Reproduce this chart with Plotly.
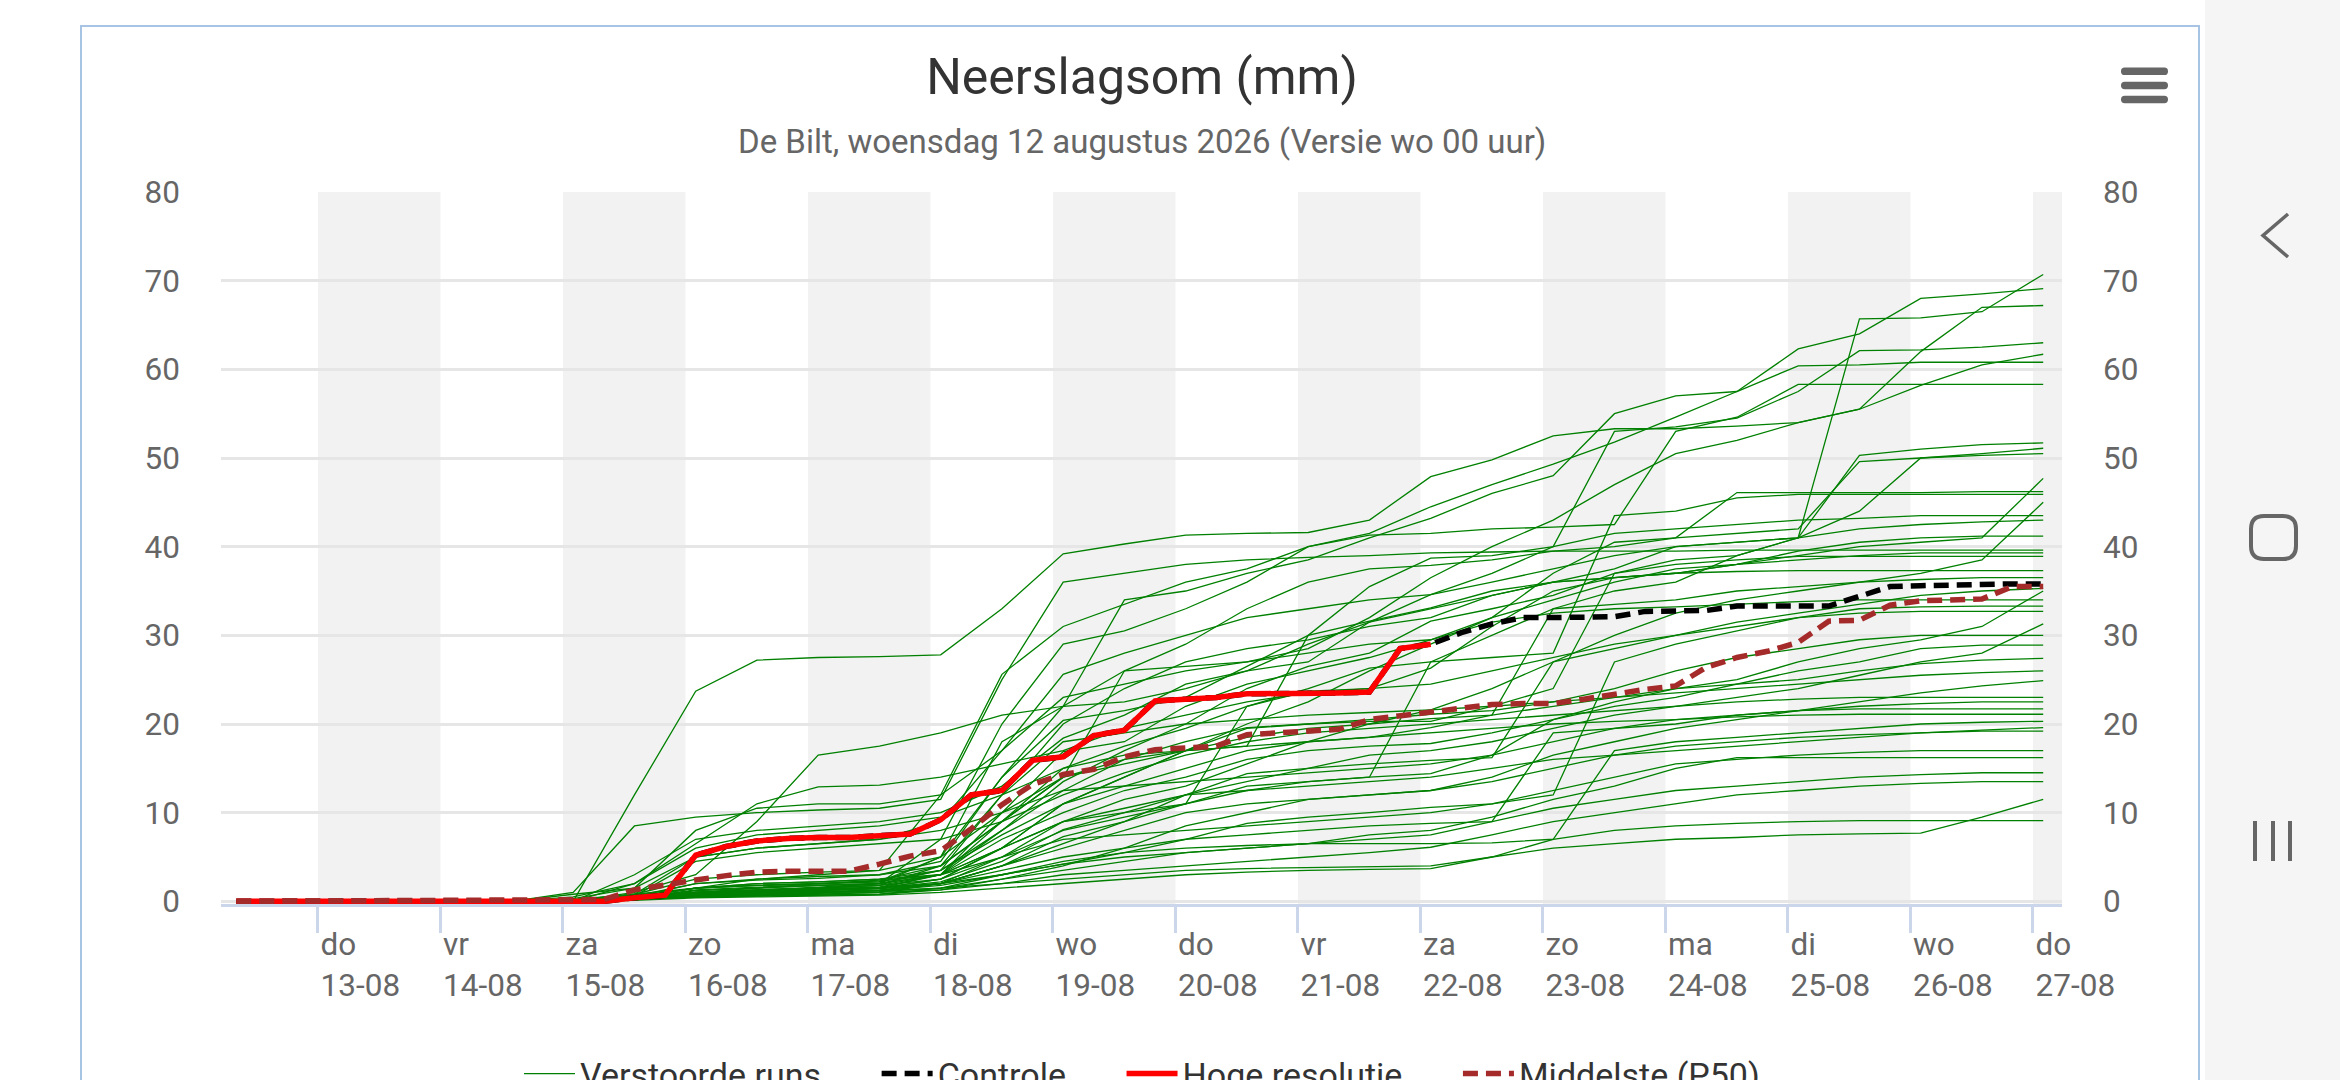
import pandas as pd
import plotly.graph_objects as go

# plot area in page pixels (2340 x 1080 page)
PLOT_L, PLOT_R, PLOT_T, PLOT_B = 221, 2062, 192, 904
W, H = 2340, 1080


def px(x):
    return (x - PLOT_L) / (PLOT_R - PLOT_L)


def py(y):
    return (PLOT_B - y) / (PLOT_B - PLOT_T)


# ---- data ----
tick_dates = pd.date_range("2026-08-13", "2026-08-27", freq="D")
day_names = ["do", "vr", "za", "zo", "ma", "di", "wo", "do", "vr", "za", "zo", "ma", "di", "wo", "do"]
day_labels = ["13-08", "14-08", "15-08", "16-08", "17-08", "18-08", "19-08", "20-08",
              "21-08", "22-08", "23-08", "24-08", "25-08", "26-08", "27-08"]

start_time = pd.Timestamp("2026-08-12 08:00")

# control / high-res / median on a 6-hourly grid from 15-08 08:00
grid_6h = pd.date_range("2026-08-15 08:00", "2026-08-27 02:00", freq="6h")
controle = [0.0, 0.4, 0.7, 5.2, 6.2, 6.8, 7.1, 7.2, 7.2, 7.4, 7.6, 9.2, 12.0, 12.5, 15.9, 16.3,
            18.7, 19.3, 22.6, 22.8, 23.0, 23.4, 23.4, 23.5, 23.5, 23.6, 28.5, 29.0, 30.3, 31.3,
            32.0, 32.0, 32.0, 32.1, 32.7, 32.8, 32.8, 33.3, 33.3, 33.3, 33.3, 34.4, 35.5, 35.6,
            35.7, 35.7, 35.8, 35.8]
hoge_resolutie = [0.0, 0.4, 0.7, 5.2, 6.2, 6.8, 7.1, 7.2, 7.2, 7.4, 7.6, 9.2, 12.0, 12.5, 15.9,
                  16.3, 18.7, 19.3, 22.6, 22.8, 23.0, 23.4, 23.4, 23.5, 23.5, 23.6, 28.5, 29.0]
middelste = [0.2, 1.3, 1.9, 2.4, 2.9, 3.3, 3.4, 3.4, 3.4, 4.2, 5.1, 5.7, 8.2, 10.9, 13.2, 14.3,
             14.9, 16.3, 17.1, 17.3, 17.5, 18.8, 19.0, 19.1, 19.4, 20.5, 20.9, 21.3, 21.7, 22.2,
             22.3, 22.3, 22.8, 23.4, 23.9, 24.3, 26.4, 27.5, 28.2, 29.2, 31.6, 31.7, 33.4, 33.9,
             34.0, 34.1, 35.5, 35.5]

# perturbed members: 0 until 14-08 14:00, then 12-hourly from 15-08 02:00
member_lead = [pd.Timestamp("2026-08-12 08:00"), pd.Timestamp("2026-08-14 14:00")]
grid_12h = pd.date_range("2026-08-15 02:00", "2026-08-27 02:00", freq="12h")

run_01 = [0.0, 12.0, 23.7, 27.2, 27.5, 27.6, 27.8, 33.0, 39.2, 40.3, 41.3, 41.5, 41.6, 43.0, 47.9, 49.8, 52.5, 53.3, 53.3, 53.6, 54.0, 55.5, 58.2, 60.5, 61.7]
run_02 = [0.2, 0.8, 1.5, 2.5, 3.0, 3.5, 12.0, 25.6, 31.0, 33.5, 36.0, 37.5, 40.0, 41.5, 44.5, 47.0, 49.3, 51.8, 54.6, 57.5, 62.3, 64.0, 68.0, 68.5, 69.1]
run_03 = [0.0, 0.5, 1.0, 1.5, 2.0, 2.2, 5.0, 18.0, 22.0, 22.5, 24.0, 26.0, 29.0, 31.5, 33.0, 34.5, 36.0, 37.5, 40.0, 40.5, 41.0, 65.7, 65.8, 66.5, 70.7]
run_04 = [0.0, 0.3, 0.8, 1.2, 1.5, 1.8, 4.0, 9.0, 14.0, 26.0, 26.5, 27.0, 28.5, 32.0, 36.5, 40.0, 43.0, 47.0, 50.5, 52.0, 54.0, 55.5, 62.0, 67.0, 67.2]
run_05 = [0.0, 0.5, 2.0, 2.5, 2.8, 3.0, 4.5, 14.0, 20.4, 21.5, 23.0, 26.5, 30.0, 35.5, 38.7, 39.0, 40.0, 53.0, 53.5, 54.5, 57.5, 62.1, 62.2, 62.5, 63.0]
run_06 = [0.0, 1.0, 3.0, 9.0, 16.5, 17.5, 19.0, 21.0, 22.0, 34.0, 35.0, 37.0, 38.5, 41.0, 43.2, 46.0, 48.0, 55.0, 57.0, 57.5, 60.4, 60.5, 60.8, 60.8, 60.8]
run_07 = [0.0, 0.3, 1.0, 1.3, 1.5, 2.0, 7.0, 20.0, 29.0, 30.5, 33.0, 36.0, 40.0, 41.3, 41.5, 42.0, 42.2, 42.5, 53.0, 54.6, 58.3, 58.3, 58.3, 58.3, 58.3]
run_08 = [0.0, 0.5, 1.5, 2.0, 2.2, 2.5, 3.5, 8.0, 13.5, 17.0, 20.0, 24.0, 26.5, 28.0, 31.6, 33.0, 34.5, 37.0, 38.5, 39.0, 41.0, 50.3, 51.0, 51.5, 51.7]
run_09 = [0.0, 3.0, 7.0, 8.0, 8.5, 9.0, 10.0, 13.0, 18.4, 21.0, 24.5, 26.0, 27.0, 31.5, 34.6, 36.0, 37.5, 39.0, 40.0, 40.5, 41.0, 44.0, 50.0, 50.5, 51.1]
run_10 = [0.0, 0.2, 0.8, 1.0, 1.2, 1.5, 3.0, 10.0, 16.9, 18.0, 22.0, 24.5, 26.0, 27.5, 29.5, 32.0, 37.0, 40.5, 41.0, 41.5, 42.0, 49.6, 50.0, 50.3, 50.5]
run_11 = [0.0, 0.4, 1.2, 1.5, 1.8, 2.0, 3.0, 6.0, 11.0, 14.0, 17.0, 20.0, 22.5, 26.0, 29.0, 32.0, 34.0, 36.0, 37.5, 38.0, 39.0, 40.0, 40.5, 41.0, 47.7]
run_12 = [0.0, 0.3, 1.0, 1.3, 1.6, 2.0, 5.0, 14.0, 22.0, 26.0, 29.0, 33.0, 36.0, 37.5, 37.9, 38.5, 39.5, 40.0, 41.0, 46.1, 46.1, 46.1, 46.1, 46.2, 46.2]
run_13 = [0.0, 0.6, 2.0, 2.4, 2.6, 3.0, 4.0, 9.0, 15.0, 17.5, 19.5, 22.0, 24.0, 26.3, 27.0, 27.5, 28.0, 43.5, 44.0, 45.5, 45.9, 45.9, 45.9, 45.9, 45.9]
run_14 = [0.0, 0.2, 0.5, 0.7, 0.8, 1.0, 2.0, 5.0, 9.0, 11.5, 13.0, 15.5, 18.0, 20.0, 21.6, 24.0, 27.0, 30.0, 32.5, 34.0, 35.0, 36.0, 37.0, 38.5, 45.0]
run_15 = [0.8, 1.5, 5.0, 6.0, 6.5, 7.0, 9.0, 17.0, 25.6, 28.0, 30.0, 32.0, 33.0, 34.0, 34.6, 37.0, 40.0, 41.5, 42.0, 42.5, 43.0, 43.2, 43.5, 43.5, 43.5]
run_16 = [0.0, 0.2, 0.6, 0.8, 1.0, 1.2, 2.0, 4.0, 7.3, 9.0, 11.0, 13.0, 13.5, 14.0, 27.0, 30.0, 33.0, 35.0, 36.0, 39.0, 41.0, 42.0, 42.5, 42.8, 43.0]
run_17 = [0.0, 0.5, 1.5, 2.0, 2.2, 2.5, 3.0, 8.0, 12.5, 16.0, 17.0, 17.5, 30.0, 31.6, 33.1, 35.0, 36.0, 36.5, 37.0, 38.0, 39.5, 40.5, 41.0, 41.2, 41.2]
run_18 = [1.0, 8.5, 9.5, 10.0, 10.3, 10.5, 11.5, 25.0, 36.0, 37.0, 38.0, 38.5, 38.8, 39.0, 39.3, 39.4, 39.5, 39.5, 39.5, 39.6, 39.6, 39.6, 39.6, 39.6, 39.6]
run_19 = [0.0, 0.3, 0.8, 1.0, 1.3, 1.5, 2.5, 6.0, 9.0, 10.0, 11.0, 22.0, 23.7, 24.0, 26.3, 31.0, 35.0, 36.5, 37.0, 38.0, 38.5, 39.0, 39.3, 39.3, 39.3]
run_20 = [0.0, 0.8, 2.5, 3.0, 3.3, 3.5, 5.0, 10.0, 14.0, 15.5, 17.0, 19.5, 20.0, 20.3, 20.3, 22.0, 24.0, 37.0, 38.0, 38.5, 38.9, 38.9, 38.9, 38.9, 38.9]
run_21 = [0.0, 0.4, 1.2, 1.5, 1.8, 2.0, 3.5, 12.0, 20.0, 24.0, 27.0, 28.5, 29.5, 31.0, 32.0, 34.5, 36.0, 36.5, 37.0, 37.2, 37.3, 37.3, 37.3, 37.3, 37.3]
run_22 = [0.0, 0.2, 0.7, 0.9, 1.1, 1.3, 2.0, 4.0, 6.5, 9.0, 12.0, 14.4, 15.0, 15.5, 15.9, 16.2, 27.0, 28.5, 30.0, 31.5, 32.5, 33.5, 34.5, 35.0, 35.3]
run_23 = [0.0, 0.5, 1.0, 1.2, 1.4, 1.6, 3.0, 7.0, 10.0, 12.5, 14.0, 16.0, 17.0, 17.5, 17.8, 19.0, 20.5, 22.5, 24.0, 25.0, 27.0, 28.5, 29.5, 31.0, 35.0]
run_24 = [0.3, 1.5, 8.0, 10.5, 11.0, 11.0, 12.0, 17.0, 23.0, 24.5, 26.0, 27.0, 28.0, 29.0, 29.5, 31.5, 32.5, 33.0, 33.2, 33.5, 33.8, 34.0, 34.0, 34.0, 34.0]
run_25 = [0.0, 0.2, 0.5, 0.6, 0.7, 0.8, 1.5, 3.0, 4.2, 5.5, 7.0, 8.8, 9.5, 10.0, 10.6, 11.0, 12.0, 27.0, 29.0, 30.5, 32.0, 33.0, 33.2, 33.3, 33.3]
run_26 = [0.5, 2.0, 6.5, 11.0, 12.9, 13.1, 14.0, 15.5, 17.0, 19.5, 21.0, 22.5, 23.5, 24.0, 24.5, 26.0, 27.5, 29.0, 30.0, 31.0, 32.0, 32.5, 32.7, 32.7, 32.7]
run_27 = [0.0, 0.3, 0.9, 1.1, 1.3, 1.5, 2.2, 4.5, 8.1, 10.0, 12.0, 13.5, 15.0, 16.5, 17.0, 18.0, 19.5, 21.0, 22.0, 23.0, 24.0, 25.5, 27.0, 28.0, 31.3]
run_28 = [0.0, 0.4, 1.0, 1.2, 1.5, 1.8, 3.0, 9.0, 14.0, 16.0, 18.0, 19.6, 20.0, 20.5, 21.1, 21.5, 22.5, 24.0, 26.0, 27.5, 28.5, 29.5, 30.0, 30.0, 30.0]
run_29 = [0.0, 0.3, 0.8, 1.0, 1.2, 1.5, 2.5, 5.0, 8.0, 9.5, 11.0, 12.5, 13.5, 14.0, 14.4, 16.5, 20.5, 22.0, 23.0, 24.5, 26.0, 27.0, 28.5, 28.9, 28.9]
run_30 = [0.0, 0.5, 1.5, 1.8, 2.0, 2.2, 3.5, 7.5, 11.0, 13.0, 15.0, 17.0, 18.0, 18.5, 19.6, 21.0, 22.0, 23.0, 24.0, 24.5, 25.0, 26.0, 26.8, 27.2, 27.4]
run_31 = [0.0, 0.2, 0.5, 0.6, 0.7, 0.8, 1.3, 2.5, 4.0, 6.0, 8.5, 10.0, 11.5, 12.0, 12.5, 14.0, 16.5, 18.0, 19.5, 20.5, 21.5, 22.5, 23.5, 24.3, 24.9]
run_32 = [0.0, 0.6, 4.5, 5.5, 6.0, 6.5, 7.0, 9.0, 12.0, 14.5, 16.5, 18.0, 19.0, 19.5, 20.0, 20.5, 21.0, 21.5, 22.0, 22.5, 22.8, 23.0, 23.0, 23.0, 23.0]
run_33 = [0.0, 0.3, 0.9, 1.1, 1.3, 1.5, 2.0, 3.5, 5.0, 6.0, 7.0, 7.5, 8.0, 8.5, 8.8, 9.0, 19.0, 19.5, 20.0, 21.0, 21.5, 21.7, 21.7, 21.7, 21.7]
run_34 = [0.0, 2.0, 6.0, 7.5, 8.0, 8.5, 9.5, 12.0, 15.0, 16.5, 17.0, 17.5, 18.0, 18.5, 19.0, 19.5, 20.0, 20.3, 20.5, 20.8, 21.0, 21.1, 21.1, 21.1, 21.1]
run_35 = [0.0, 0.2, 0.6, 0.8, 1.0, 1.2, 1.8, 3.0, 4.5, 5.5, 6.0, 6.3, 6.5, 6.5, 6.5, 6.6, 7.0, 17.0, 18.0, 18.5, 19.0, 19.5, 20.0, 20.2, 20.3]
run_36 = [0.0, 0.4, 1.3, 1.6, 1.8, 2.0, 3.0, 6.0, 9.0, 10.5, 12.0, 12.5, 13.0, 13.5, 14.0, 15.0, 16.0, 16.5, 17.0, 17.5, 18.0, 18.5, 19.0, 19.3, 19.6]
run_37 = [0.0, 0.3, 0.8, 1.0, 1.2, 1.4, 2.0, 4.0, 6.0, 8.0, 10.0, 11.0, 11.5, 12.0, 12.5, 13.5, 15.0, 16.5, 17.5, 18.0, 18.5, 18.8, 19.0, 19.2, 19.2]
run_38 = [0.0, 0.5, 1.5, 1.8, 2.0, 2.3, 3.0, 5.0, 7.0, 7.5, 8.0, 8.5, 9.0, 9.5, 10.0, 11.0, 12.5, 14.0, 15.5, 16.0, 16.5, 16.8, 17.0, 17.0, 17.0]
run_39 = [0.0, 0.2, 0.6, 0.8, 1.0, 1.2, 1.5, 2.5, 3.5, 4.5, 5.5, 6.0, 6.5, 7.5, 8.0, 9.5, 11.5, 13.0, 15.0, 16.2, 16.2, 16.2, 16.2, 16.2, 16.2]
run_40 = [0.0, 0.3, 1.0, 1.2, 1.4, 1.6, 2.0, 3.0, 4.2, 5.0, 5.5, 6.0, 6.5, 7.0, 7.5, 9.0, 10.5, 11.5, 12.5, 13.0, 13.5, 14.0, 14.3, 14.5, 14.5]
run_41 = [0.0, 0.2, 0.5, 0.7, 0.9, 1.0, 1.3, 2.0, 3.0, 3.5, 4.0, 4.5, 5.0, 5.5, 6.1, 7.5, 9.0, 10.0, 11.0, 12.0, 12.5, 13.0, 13.3, 13.5, 13.5]
run_42 = [0.0, 0.2, 0.6, 0.8, 1.0, 1.1, 1.5, 2.0, 2.5, 3.0, 3.5, 3.7, 3.8, 3.9, 4.0, 5.0, 6.0, 6.5, 7.0, 7.2, 7.5, 7.6, 7.7, 9.5, 11.5]
run_43 = [0.0, 0.1, 0.4, 0.5, 0.6, 0.7, 1.0, 1.5, 2.0, 2.5, 3.0, 3.3, 3.5, 3.6, 3.7, 5.0, 7.0, 8.0, 8.5, 8.8, 9.0, 9.1, 9.1, 9.1, 9.1]
run_44 = [0.0, 0.8, 5.0, 6.0, 6.5, 7.0, 8.0, 10.0, 12.5, 13.0, 13.5, 14.0, 14.5, 15.0, 15.5, 16.5, 18.0, 19.5, 20.5, 21.0, 21.5, 22.0, 22.3, 22.5, 22.5]
run_45 = [0.0, 0.5, 1.5, 1.8, 2.0, 2.4, 4.0, 12.0, 18.0, 19.0, 20.0, 20.5, 21.0, 21.3, 21.6, 22.0, 22.5, 23.0, 23.5, 24.0, 24.5, 25.0, 25.5, 25.8, 26.0]
run_46 = [0.0, 0.3, 1.0, 1.3, 1.5, 1.8, 2.5, 6.0, 11.0, 14.0, 17.0, 18.5, 19.5, 20.0, 20.6, 21.0, 33.0, 33.5, 34.0, 35.0, 35.5, 36.0, 36.3, 36.5, 36.5]

verstoorde_runs = [run_01, run_02, run_03, run_04, run_05, run_06, run_07, run_08, run_09, run_10,
                   run_11, run_12, run_13, run_14, run_15, run_16, run_17, run_18, run_19, run_20,
                   run_21, run_22, run_23, run_24, run_25, run_26, run_27, run_28, run_29, run_30,
                   run_31, run_32, run_33, run_34, run_35, run_36, run_37, run_38, run_39, run_40,
                   run_41, run_42, run_43, run_44, run_45, run_46]

band_starts = pd.date_range("2026-08-13", "2026-08-27", freq="2D")

# padding behind legend names, to space the entries like the original
GAP = "\u00a0" * 6

# ---- figure ----
fig = go.Figure()

member_x = member_lead + list(grid_12h)
for i, run in enumerate(verstoorde_runs):
    fig.add_trace(go.Scatter(
        x=member_x, y=[0.0, 0.0] + run, mode="lines",
        line=dict(color="#008000", width=1.3),
        name="Verstoorde runs" + GAP, legendgroup="runs", showlegend=(i == 0),
        hoverinfo="skip"))

fig.add_trace(go.Scatter(
    x=[start_time] + list(grid_6h), y=[0.0] + controle, mode="lines",
    line=dict(color="black", width=5.5, dash="15px,8px"), name="Controle" + GAP))
fig.add_trace(go.Scatter(
    x=[start_time] + list(grid_6h[:len(hoge_resolutie)]), y=[0.0] + hoge_resolutie, mode="lines",
    line=dict(color="red", width=5.5), name="Hoge resolutie" + GAP))
fig.add_trace(go.Scatter(
    x=[start_time] + list(grid_6h), y=[0.0] + middelste, mode="lines",
    line=dict(color="brown", width=5.5, dash="15px,8px"), name="Middelste (P50)",
    yaxis="y2"))

shapes = []
for d in band_starts:
    shapes.append(dict(type="rect", xref="x", yref="paper", x0=d, x1=d + pd.Timedelta(days=1),
                       y0=0, y1=1, fillcolor="#f2f2f2", line_width=0, layer="below"))

# chart container border
shapes.append(dict(type="rect", xref="paper", yref="paper", x0=px(81), x1=px(2199),
                   y0=py(1120), y1=py(26), line=dict(color="#a7c4e4", width=2),
                   fillcolor="rgba(0,0,0,0)", layer="above"))
# phone navigation bar
shapes.append(dict(type="rect", xref="paper", yref="paper", x0=px(2205), x1=px(2360),
                   y0=py(1100), y1=py(-20), fillcolor="#f5f5f5", line_width=0, layer="above"))


def rounded_rect(x0, y0, x1, y1, r):
    pts = [("M", x0 + r, y0), ("L", x1 - r, y0), ("Q", x1, y0, x1, y0 + r), ("L", x1, y1 - r),
           ("Q", x1, y1, x1 - r, y1), ("L", x0 + r, y1), ("Q", x0, y1, x0, y1 - r),
           ("L", x0, y0 + r), ("Q", x0, y0, x0 + r, y0)]
    out = []
    for p in pts:
        if p[0] == "Q":
            out.append("Q%f,%f %f,%f" % (px(p[1]), py(p[2]), px(p[3]), py(p[4])))
        else:
            out.append("%s%f,%f" % (p[0], px(p[1]), py(p[2])))
    return " ".join(out) + " Z"


# export menu icon
for cy in (71.3, 85.5, 99.5):
    shapes.append(dict(type="path", xref="paper", yref="paper",
                       path=rounded_rect(2121, cy - 3.8, 2168, cy + 3.8, 3.7),
                       fillcolor="#666666", line_width=0, layer="above"))
# nav icons
shapes.append(dict(type="path", xref="paper", yref="paper",
                   path="M%f,%f L%f,%f L%f,%f" % (px(2288), py(214), px(2263), py(235.5), px(2288), py(257)),
                   line=dict(color="#666666", width=3.5), layer="above"))
shapes.append(dict(type="path", xref="paper", yref="paper",
                   path=rounded_rect(2251, 516, 2296, 559, 13),
                   line=dict(color="#666666", width=4), fillcolor="rgba(0,0,0,0)", layer="above"))
for lx in (2255, 2273, 2290):
    shapes.append(dict(type="line", xref="paper", yref="paper", x0=px(lx), x1=px(lx),
                       y0=py(821), y1=py(861), line=dict(color="#666666", width=4), layer="above"))

yaxis_common = dict(range=[-0.3, 80], tickvals=[0, 10, 20, 30, 40, 50, 60, 70, 80],
                    zeroline=False, ticks="", fixedrange=True,
                    tickfont=dict(family="Roboto", size=31.5, color="#666666"))

fig.update_layout(
    width=W, height=H,
    margin=dict(l=PLOT_L, r=W - PLOT_R, t=PLOT_T, b=H - PLOT_B, autoexpand=False),
    paper_bgcolor="white", plot_bgcolor="white",
    font=dict(family="Roboto", color="#333333"),
    title=dict(text="Neerslagsom (mm)", x=1142 / W, xanchor="center", xref="container",
               y=1 - 76 / H, yanchor="middle", yref="container",
               font=dict(family="Roboto", size=50, color="#333333")),
    xaxis=dict(type="date", range=["2026-08-12 05:00", "2026-08-27 05:41"],
               tickvals=list(tick_dates),
               ticktext=[n + "<br>" + d for n, d in zip(day_names, day_labels)],
               ticks="outside", ticklen=26, tickwidth=2.6, tickcolor="#ccd6eb",
               ticklabelposition="outside right", ticklabelstandoff=10,
               showline=True, linecolor="#ccd6eb", linewidth=2.6, showgrid=False,
               zeroline=False, layer="below traces",
               tickfont=dict(family="Roboto", size=31.5, color="#666666")),
    yaxis=dict(showgrid=True, gridcolor="#e6e6e6", gridwidth=2.6, ticklabelstandoff=40,
               **yaxis_common),
    yaxis2=dict(overlaying="y", side="right", showgrid=False, ticklabelstandoff=40,
                **yaxis_common),
    legend=dict(orientation="h", x=px(1142), xanchor="center", y=py(1074), yanchor="middle",
                itemwidth=51,
                font=dict(family="Roboto", size=34, color="#333333"),
                bgcolor="rgba(0,0,0,0)"),
    shapes=shapes,
    annotations=[dict(text="De Bilt, woensdag 12 augustus 2026 (Versie wo 00 uur)",
                      xref="paper", yref="paper", x=px(1142), y=py(141),
                      xanchor="center", yanchor="middle", showarrow=False,
                      font=dict(family="Roboto", size=33, color="#666666"))],
    showlegend=True,
)

fig.write_html("out.html", config={"displayModeBar": False},
               post_script="document.body.style.margin='0';")
